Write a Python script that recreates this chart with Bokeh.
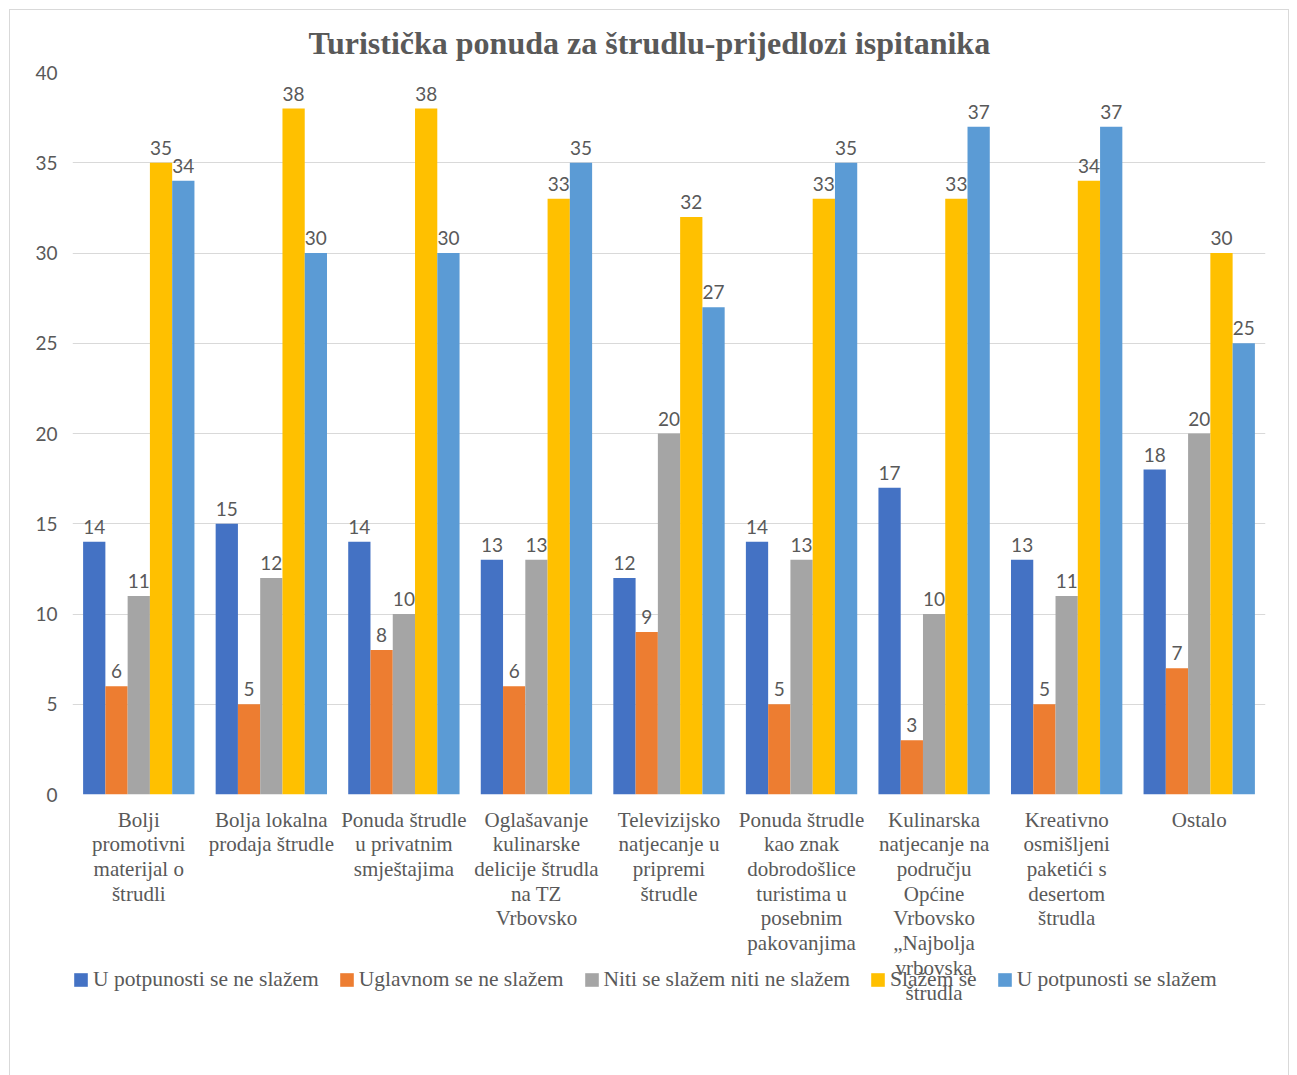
from bokeh.plotting import figure
from bokeh.models import ColumnDataSource, Legend, LegendItem, FixedTicker, Range1d
from bokeh.layouts import column
from bokeh.transform import dodge
from bokeh.core.properties import value
from bokeh.embed import file_html
from bokeh.resources import INLINE

categories = [
    "Bolji\npromotivni\nmaterijal o\nštrudli",
    "Bolja lokalna\nprodaja štrudle",
    "Ponuda štrudle\nu privatnim\nsmještajima",
    "Oglašavanje\nkulinarske\ndelicije štrudla\nna TZ\nVrbovsko",
    "Televizijsko\nnatjecanje u\npripremi\nštrudle",
    "Ponuda štrudle\nkao znak\ndobrodošlice\nturistima u\nposebnim\npakovanjima",
    "Kulinarska\nnatjecanje na\npodručju\nOpćine\nVrbovsko\n„Najbolja\nvrbovska\nštrudla",
    "Kreativno\nosmišljeni\npaketići s\ndesertom\nštrudla",
    "Ostalo",
]

series_names = [
    "U potpunosti se ne slažem",
    "Uglavnom se ne slažem",
    "Niti se slažem niti ne slažem",
    "Slažem se",
    "U potpunosti se slažem",
]
u_ne = [14, 15, 14, 13, 12, 14, 17, 13, 18]
ugl_ne = [6, 5, 8, 6, 9, 5, 3, 5, 7]
niti = [11, 12, 10, 13, 20, 13, 10, 11, 20]
slazem = [35, 38, 38, 33, 32, 33, 33, 34, 30]
u_da = [34, 30, 30, 35, 27, 35, 37, 37, 25]
series_values = [u_ne, ugl_ne, niti, slazem, u_da]
colors = ["#4472C4", "#ED7D31", "#A5A5A5", "#FFC000", "#5B9BD5"]
y_ticks = [0, 5, 10, 15, 20, 25, 30, 35, 40]

W = 1278
H1 = 796
H2 = 269
BL, BR = 62, 23

# ---------- main chart ----------
p = figure(x_range=categories, y_range=(0, 40), width=W, height=H1,
           output_backend="svg", toolbar_location=None,
           min_border_left=BL, min_border_right=BR, min_border_top=62,
           min_border_bottom=12)

data = {"cat": categories}
for i, vals in enumerate(series_values):
    data["s%d" % i] = vals
    data["t%d" % i] = [str(v) for v in vals]
src = ColumnDataSource(data)

bw = 0.168
offs = [-2 * bw, -bw, 0, bw, 2 * bw]
for i in range(5):
    p.vbar(x=dodge("cat", offs[i], range=p.x_range), top="s%d" % i,
           width=bw, source=src, color=colors[i], line_color=None)
    p.text(x=dodge("cat", offs[i], range=p.x_range), y="s%d" % i,
           text="t%d" % i, source=src, text_align="center",
           text_baseline="bottom", y_offset=-8,
           text_font=value("Lato"), text_font_size="19px",
           text_color="#595959")

p.title.text = "Turistička ponuda za štrudlu-prijedlozi ispitanika"
p.title.align = "left"
p.title.offset = 236
p.title.text_font = "Liberation Serif"
p.title.text_font_style = "bold"
p.title.text_font_size = "32px"
p.title.text_color = "#595959"
p.title.standoff = 23

p.xaxis.visible = False

p.yaxis.ticker = FixedTicker(ticks=y_ticks)
p.yaxis.axis_line_color = None
p.yaxis.major_tick_line_color = None
p.yaxis.minor_tick_line_color = None
p.yaxis.major_label_text_font = "Lato"
p.yaxis.major_label_text_font_size = "19px"
p.yaxis.major_label_text_color = "#595959"
p.yaxis.major_label_standoff = 9

p.xgrid.grid_line_color = None
p.ygrid.grid_line_color = "#d9d9d9"
p.outline_line_color = None

# ---------- category labels + legend (same x scale) ----------
p2 = figure(x_range=p.x_range, y_range=Range1d(0, H2), width=W, height=H2,
            output_backend="svg", toolbar_location=None,
            min_border_left=BL, min_border_right=BR, min_border_top=0,
            min_border_bottom=0)
p2.axis.visible = False
p2.grid.grid_line_color = None
p2.outline_line_color = None

lab_src = ColumnDataSource({"cat": categories, "y": [H2 - 1] * len(categories)})
p2.text(x="cat", y="y", text="cat", source=lab_src, text_align="center",
        text_baseline="top", text_font=value("Liberation Serif"),
        text_font_size="21px", text_color="#595959", text_line_height=1.03)

items = []
key_src = ColumnDataSource({"cat": categories[:1], "top": [0]})
for i in range(5):
    r = p2.vbar(x="cat", top="top", width=bw, source=key_src, color=colors[i],
                line_color=None)
    items.append(LegendItem(label=series_names[i], renderers=[r]))

legend = Legend(items=items, orientation="horizontal", location=(0, 83),
                label_text_font="Liberation Serif", label_text_font_size="21.5px",
                label_text_color="#595959", glyph_width=17, glyph_height=17,
                spacing=19, label_standoff=4, padding=0, margin=0,
                border_line_color=None, background_fill_alpha=0)
p2.add_layout(legend, "center")

layout = column(p, p2, spacing=0)
layout.styles = {"border": "1px solid #d9d9d9", "margin-left": "9px", "margin-top": "9px"}

open("out.html", "w").write(file_html(layout, INLINE))
